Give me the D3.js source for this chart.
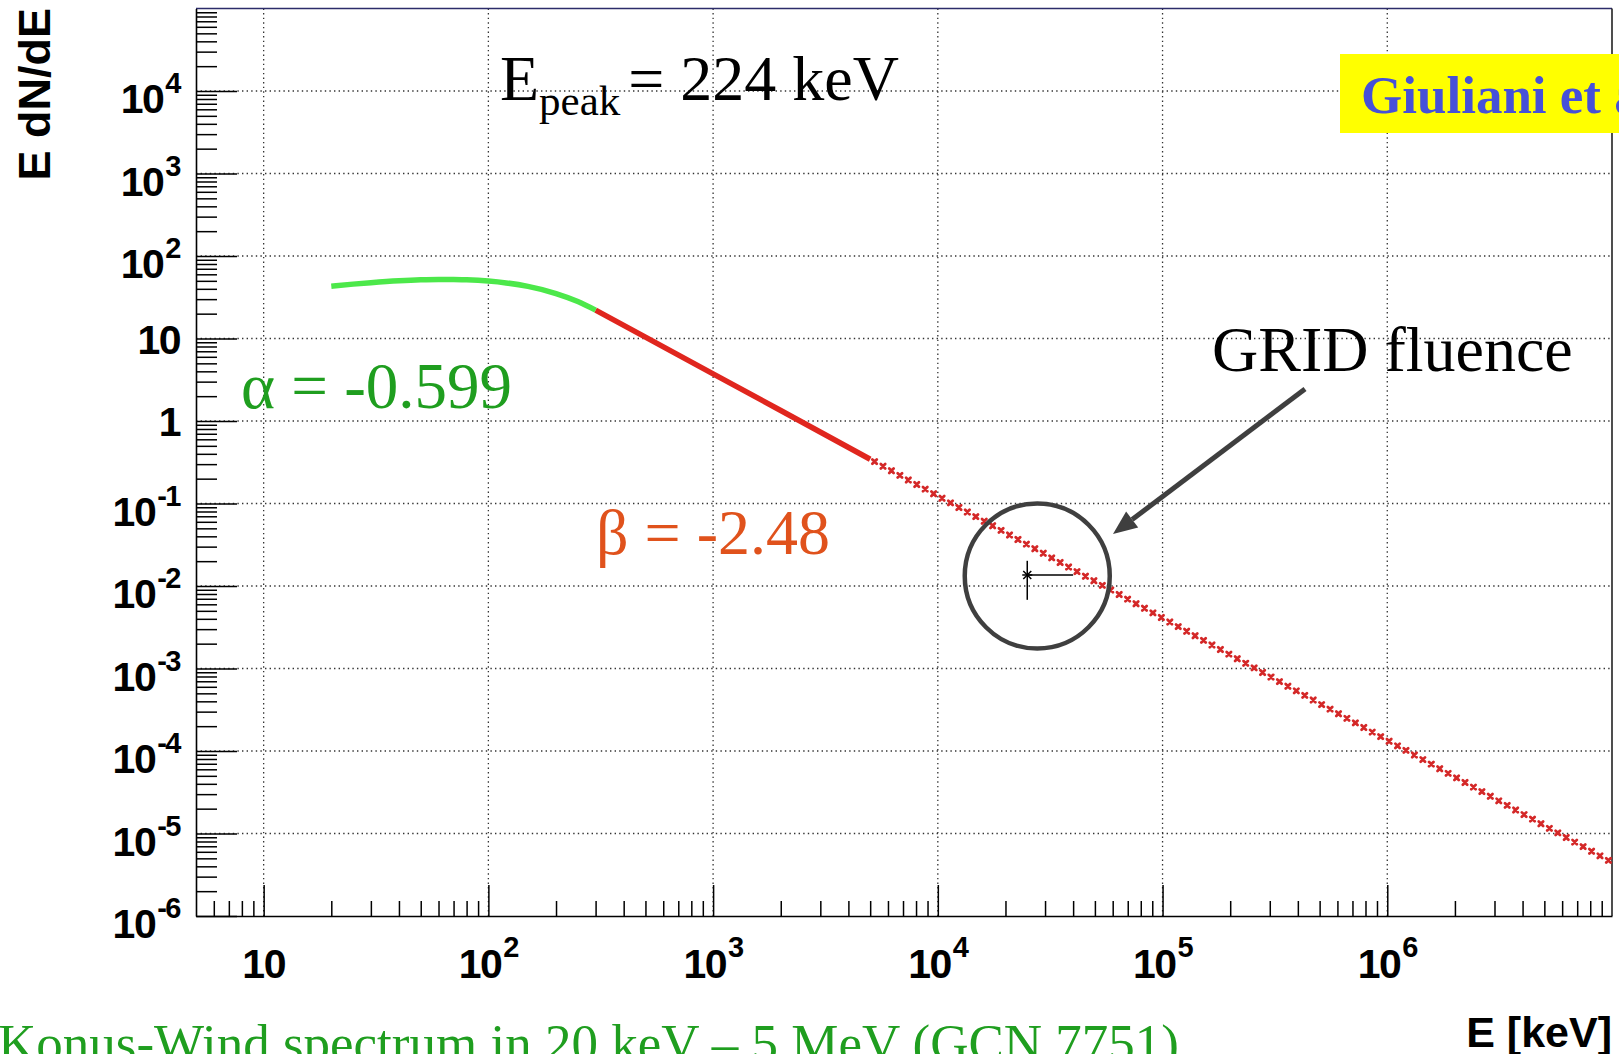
<!DOCTYPE html>
<meta charset="utf-8">
<title>Konus-Wind spectrum</title>
<style>
body { margin: 0; background: #fff; }
svg { display: block; }
.grid line { stroke: #333; stroke-width: 1.3; stroke-dasharray: 1.4 3.2; }
.axis path { stroke: #000; stroke-width: 1.6; }
.axis line { stroke: #000; stroke-width: 1.5; }
.lbl { font-family: "Liberation Sans", Arial, sans-serif; font-weight: bold; fill: #000; }
.serif { font-family: "Liberation Serif", "Times New Roman", serif; }
</style>
<body>
<script src="https://d3js.org/d3.v7.min.js"></script>
<script>

// low-energy branch (green), E [keV] vs E dN/dE
const lowE   = [20, 25, 30, 40, 50, 60, 70, 80, 100, 120, 150, 200, 250, 300];
const lowVal = [43.0, 45.6, 47.5, 50.1, 51.5, 52.0, 52.0, 51.5, 49.7, 47.2, 42.8, 35.1, 28.1, 22.1];

// high-energy branch inside 20 keV - 5 MeV (red, solid)
const highE   = [300, 500, 1000, 2000, 5000];
const highVal = [22.1, 10.4, 3.73, 1.34, 0.344];

// extrapolation above 5 MeV (red, star markers)
const extraE   = [5000, 1e5, 1e6, 1e7];
const extraVal = [0.344, 4.08e-3, 1.35e-4, 4.47e-6];

// GRID fluence point with its error bars
const gridE = 25000, gridVal = 0.0136;
const gridEHigh = 40000, gridValLow = 0.0068, gridValHigh = 0.0202;

// axis ticks
const xMajor = [10, 1e2, 1e3, 1e4, 1e5, 1e6];
const yMajor = [1e-6, 1e-5, 1e-4, 1e-3, 1e-2, 1e-1, 1, 10, 1e2, 1e3, 1e4];
const xExp   = [1, 2, 3, 4, 5, 6];
const yExp   = [-6, -5, -4, -3, -2, -1, 0, 1, 2, 3, 4];

const W = 1619, H = 1054;
const plot = { left: 196, right: 1612, top: 8.5, bottom: 916 };

const svg = d3.select("body").append("svg")
   .attr("width", W)
   .attr("height", H);

const x = d3.scaleLog().domain([5, 1e7]).range([plot.left, plot.right]);
const y = d3.scaleLog().domain([1e-6, 1e5]).range([plot.bottom, plot.top]);

// minor ticks 2..9 in every decade inside the domain
function minors(scale) {
   const [a, b] = scale.domain();
   const out = [];
   for (let e = Math.floor(Math.log10(a)); e <= Math.ceil(Math.log10(b)); e++) {
      for (let m = 2; m <= 9; m++) {
         const v = m * Math.pow(10, e);
         if (v > a && v < b) out.push(v);
      }
   }
   return out;
}

//grid
svg.append("g").attr("class", "grid")
   .selectAll("line.v")
   .data(xMajor)
   .join("line")
   .attr("x1", d => x(d)).attr("x2", d => x(d))
   .attr("y1", plot.top).attr("y2", plot.bottom);

svg.append("g").attr("class", "grid")
   .selectAll("line.h")
   .data(yMajor.slice(1))
   .join("line")
   .attr("x1", plot.left).attr("x2", plot.right)
   .attr("y1", d => y(d)).attr("y2", d => y(d));

// frame top / right
svg.append("line")
   .attr("x1", plot.left).attr("x2", plot.right)
   .attr("y1", plot.top).attr("y2", plot.top)
   .attr("stroke", "#2c2c6a").attr("stroke-width", 1.6);
svg.append("line")
   .attr("x1", plot.right).attr("x2", plot.right)
   .attr("y1", plot.top).attr("y2", plot.bottom)
   .attr("stroke", "#222").attr("stroke-width", 1.6);

// axes: ticks point into the plot
const yAxisG = svg.append("g").attr("class", "axis")
   .attr("transform", `translate(${plot.left},0)`);
yAxisG.append("g")
   .call(d3.axisLeft(y).tickValues(minors(y)).tickSize(-21).tickFormat(""))
   .call(g => g.select(".domain").remove());
yAxisG.append("g")
   .call(d3.axisLeft(y).tickValues(yMajor).tickSize(-41).tickSizeOuter(0).tickFormat(""));

const xAxisG = svg.append("g").attr("class", "axis")
   .attr("transform", `translate(0,${plot.bottom})`);
xAxisG.append("g")
   .call(d3.axisBottom(x).tickValues(minors(x)).tickSize(-15).tickFormat(""))
   .call(g => g.select(".domain").remove());
xAxisG.append("g")
   .call(d3.axisBottom(x).tickValues(xMajor).tickSize(-31).tickSizeOuter(0).tickFormat(""));

// y tick labels, 10 with superscript exponent
yMajor.forEach(function(v, i) {
   const e = yExp[i];
   const plain = (e === 0 || e === 1);
   const t = svg.append("text")
      .attr("class", "lbl")
      .attr("x", 180)
      .attr("y", y(v) + (plain ? 15 : 22))
      .attr("text-anchor", "end")
      .style("font-size", "41px")
      .style("letter-spacing", "-1.5px");
   if (plain) {
      t.text(e === 0 ? "1" : "10");
   } else {
      t.append("tspan").text("10");
      t.append("tspan").attr("dy", -20).attr("dx", 2).style("font-size", "29px").text(e);
   }
});

// x tick labels
xMajor.forEach(function(v, i) {
   const e = xExp[i];
   const t = svg.append("text")
      .attr("class", "lbl")
      .attr("x", x(v))
      .attr("y", 978)
      .attr("text-anchor", "middle")
      .style("font-size", "41px")
      .style("letter-spacing", "-1.5px");
   if (e === 1) {
      t.text("10");
   } else {
      t.append("tspan").text("10");
      t.append("tspan").attr("dy", -21).attr("dx", 2).style("font-size", "29px").text(e);
   }
});

// axis titles
svg.append("text")
   .attr("class", "lbl")
   .attr("transform", "translate(50,8) rotate(-90)")
   .attr("text-anchor", "end")
   .style("font-size", "45px")
   .text("E dN/dE");

svg.append("text")
   .attr("class", "lbl")
   .attr("x", 1612)
   .attr("y", 1047)
   .attr("text-anchor", "end")
   .style("font-size", "43px")
   .text("E [keV]");

// spectrum
const line = d3.line()
   .x(d => x(d[0]))
   .y(d => y(d[1]));

// extrapolated part: guide path (invisible) with small x markers along it
const extraPath = svg.append("path")
   .datum(extraE.map((e, i) => [e, extraVal[i]]))
   .attr("d", line)
   .attr("fill", "none")
   .attr("stroke", "none");
const pathNode = extraPath.node();
const total = pathNode.getTotalLength();
const markG = svg.append("g").attr("stroke", "#d42828").attr("stroke-width", 2.8).attr("stroke-linecap", "round");
for (let s = 5; s < total; s += 9.6) {
   const p = pathNode.getPointAtLength(s);
   markG.append("path")
      .attr("d", `M${p.x - 2.2},${p.y - 2.2}L${p.x + 2.2},${p.y + 2.2}M${p.x - 2.2},${p.y + 2.2}L${p.x + 2.2},${p.y - 2.2}`);
}

svg.append("path")
   .datum(highE.map((e, i) => [e, highVal[i]]))
   .attr("d", line)
   .attr("fill", "none")
   .attr("stroke", "#e0261e")
   .attr("stroke-width", 5.5);

svg.append("path")
   .datum(lowE.map((e, i) => [e, lowVal[i]]))
   .attr("d", line.curve(d3.curveMonotoneX))
   .attr("fill", "none")
   .attr("stroke", "#4ce84a")
   .attr("stroke-width", 5.5);

// GRID point: star marker + error bars
const gx = x(gridE), gy = y(gridVal);
const gp = svg.append("g").attr("stroke", "#000").attr("stroke-width", 1.5);
gp.append("line").attr("x1", gx).attr("x2", gx).attr("y1", y(gridValHigh)).attr("y2", y(gridValLow));
gp.append("line").attr("x1", gx).attr("x2", x(gridEHigh)).attr("y1", gy).attr("y2", gy);
[[-4, -4, 4, 4], [-4, 4, 4, -4], [-5, 0, 5, 0]].forEach(s => {
   gp.append("line")
      .attr("x1", gx + s[0]).attr("y1", gy + s[1])
      .attr("x2", gx + s[2]).attr("y2", gy + s[3]);
});

// circle + arrow annotation
svg.append("circle")
   .attr("cx", gx + 10)
   .attr("cy", gy + 1)
   .attr("r", 72.5)
   .attr("fill", "none")
   .attr("stroke", "#3f3f3f")
   .attr("stroke-width", 4.5);

const tip = [1113, 534], tail = [1305, 389];
const len = Math.hypot(tail[0] - tip[0], tail[1] - tip[1]);
const ux = (tail[0] - tip[0]) / len, uy = (tail[1] - tip[1]) / len;
const base = [tip[0] + 24 * ux, tip[1] + 24 * uy];
svg.append("line")
   .attr("x1", tail[0]).attr("y1", tail[1])
   .attr("x2", base[0]).attr("y2", base[1])
   .attr("stroke", "#3f3f3f").attr("stroke-width", 5);
svg.append("polygon")
   .attr("points", [tip, [base[0] - 10 * uy, base[1] + 10 * ux], [base[0] + 10 * uy, base[1] - 10 * ux]].map(p => p.join(",")).join(" "))
   .attr("fill", "#3f3f3f");

// annotations
const ep = svg.append("text")
   .attr("class", "serif")
   .attr("x", 500)
   .attr("y", 100)
   .style("font-size", "64px")
   .attr("fill", "#000");
ep.append("tspan").text("E");
ep.append("tspan").attr("dy", 15).style("font-size", "43px").text("peak");
ep.append("tspan").attr("dy", -15).attr("dx", 8).text("= 224 keV");

svg.append("text")
   .attr("class", "serif")
   .attr("x", 241)
   .attr("y", 408)
   .style("font-size", "65px")
   .attr("fill", "#1f9e1f")
   .text("α = -0.599");

svg.append("text")
   .attr("class", "serif")
   .attr("x", 596)
   .attr("y", 554)
   .style("font-size", "64px")
   .attr("fill", "#e0521c")
   .text("β = -2.48");

svg.append("text")
   .attr("class", "serif")
   .attr("x", 1212)
   .attr("y", 371)
   .style("font-size", "64px")
   .attr("fill", "#000")
   .text("GRID fluence");

svg.append("rect")
   .attr("x", 1340).attr("y", 54)
   .attr("width", 300).attr("height", 79)
   .attr("fill", "#ffff00");
svg.append("text")
   .attr("class", "serif")
   .attr("x", 1361)
   .attr("y", 113)
   .style("font-size", "53px")
   .style("font-weight", "bold")
   .attr("fill", "#4650d8")
   .text("Giuliani et al.");

svg.append("text")
   .attr("class", "serif")
   .attr("x", -2)
   .attr("y", 1061)
   .style("font-size", "53px")
   .attr("fill", "#1f9e1f")
   .text("Konus-Wind spectrum in 20 keV – 5 MeV (GCN 7751)");

</script>
</body>
